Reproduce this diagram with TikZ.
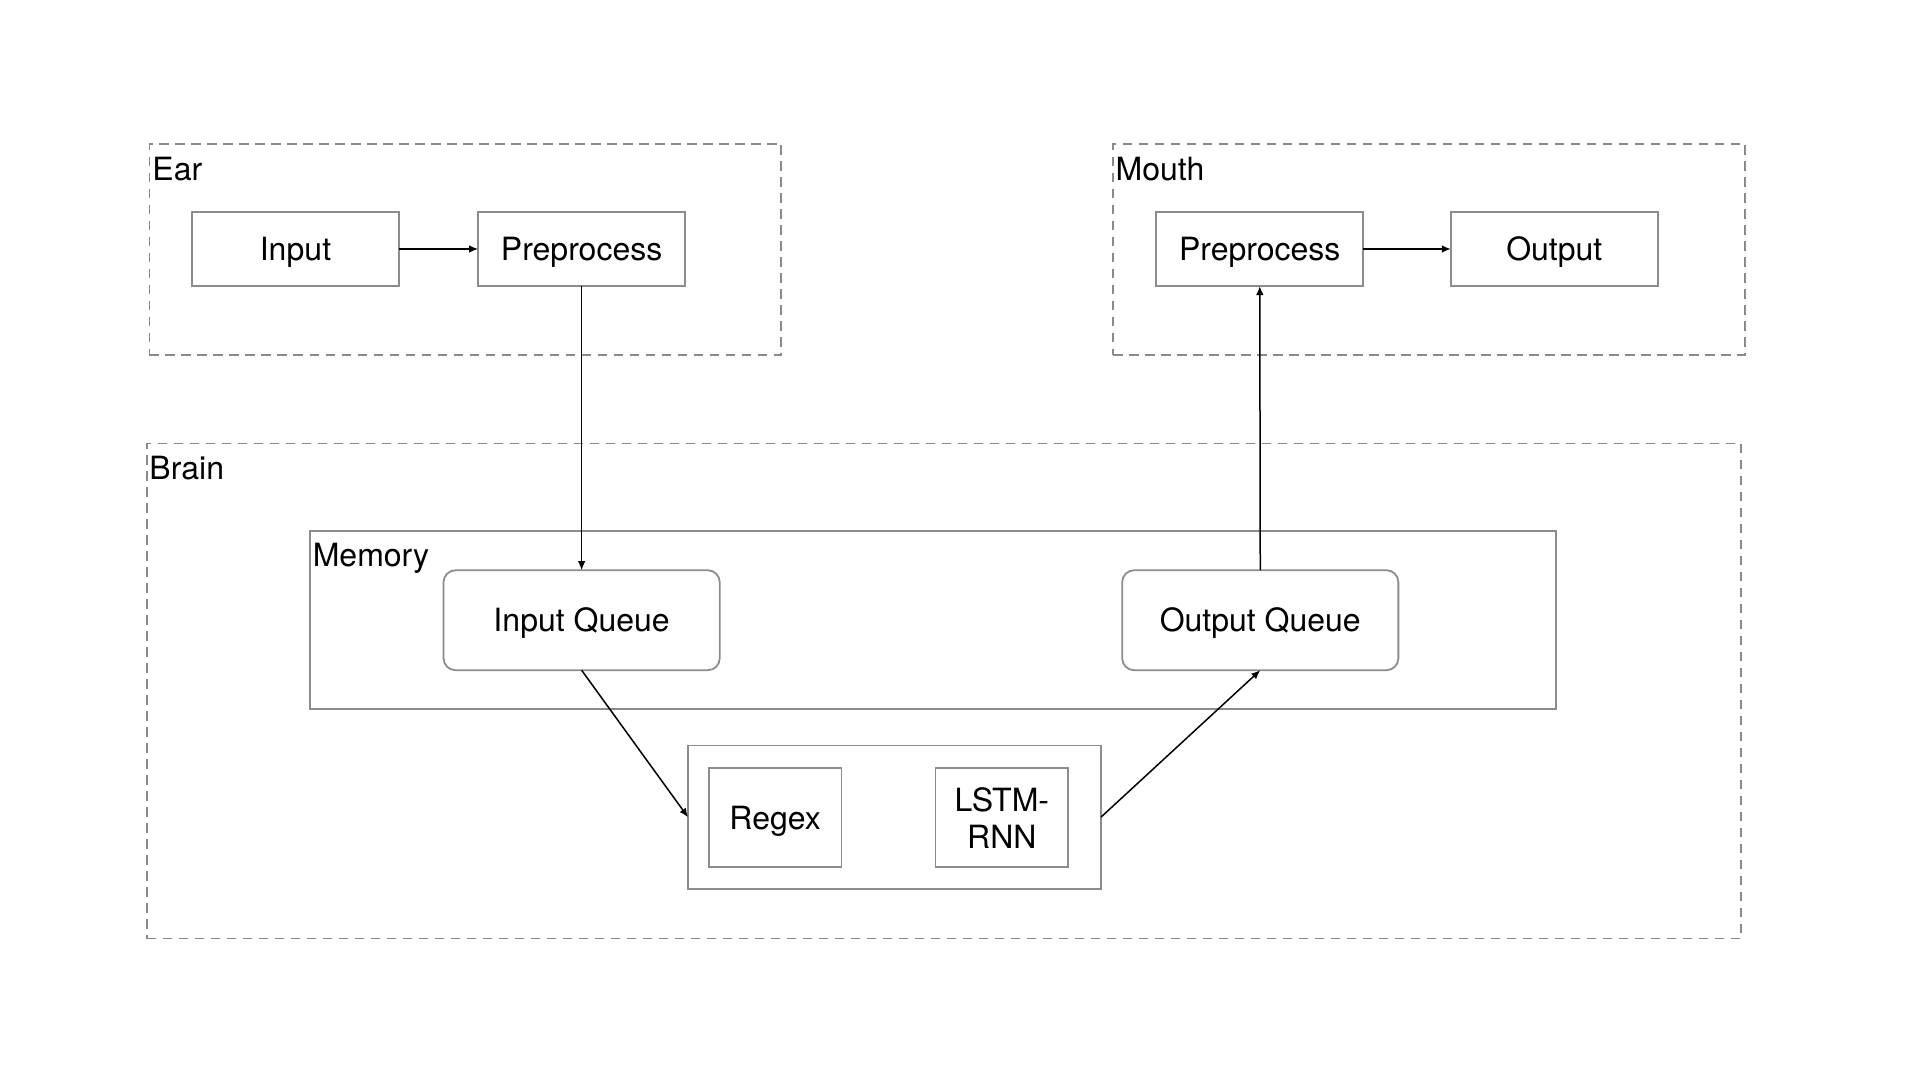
\documentclass[tikz,border=0pt]{standalone}
\usepackage{fontspec}
\setmainfont{TeX Gyre Heros}
\usetikzlibrary{arrows.meta}
\definecolor{boxgray}{RGB}{140,140,143}
\definecolor{dashgray}{RGB}{138,138,140}
\tikzset{
  every node/.style={font=\fontsize{16}{18.5}\selectfont, inner sep=0pt, outer sep=0pt},
  group/.style={draw=dashgray, line width=0.95pt, dash pattern=on 4.8pt off 3.2pt},
  plainbox/.style={draw=boxgray, line width=0.9pt},
  oneline/.style={text height=11.5pt, text depth=0pt},
  queuebox/.style={draw=boxgray, line width=0.9pt, rounded corners=6pt, oneline},
  grouplabel/.style={anchor=base west},
  conn/.style={line width=0.75pt, -{Latex[length=4.5pt,width=3.8pt]}}
}
\begin{document}
\begin{tikzpicture}[x=0.495pt,y=-0.495pt]
\useasboundingbox (0,0) rectangle (1939.4,1090.9);
% groups
\node[group, minimum width=315.8pt, minimum height=105.9pt] (ear) at (470,252) {};
\node[group, minimum width=315.8pt, minimum height=105.9pt] (mouth) at (1443.5,252) {};
\node[group, minimum width=797.4pt, minimum height=247.5pt] (brain) at (953.5,698) {};
\node[grouplabel] (earlbl) at (154,182) {Ear};
\node[grouplabel] (mouthlbl) at (1127,182) {Mouth};
\node[grouplabel] (brainlbl) at (151,484.5) {Brain};
% memory
\node[plainbox, minimum width=623.2pt, minimum height=89.1pt] (memory) at (942.5,626) {};
\node[grouplabel] (memlbl) at (316,572.5) {Memory};
% ear nodes
\node[plainbox, oneline, minimum width=103.5pt, minimum height=37.1pt] (input) at (298.5,251.5) {Input};
\node[plainbox, oneline, minimum width=103.5pt, minimum height=37.1pt] (epre) at (587.5,251.5) {Preprocess};
% mouth nodes
\node[plainbox, oneline, minimum width=103.5pt, minimum height=37.1pt] (mpre) at (1272.5,251.5) {Preprocess};
\node[plainbox, oneline, minimum width=103.5pt, minimum height=37.1pt] (output) at (1570,251.5) {Output};
% queues
\node[queuebox, minimum width=138.1pt, minimum height=50pt] (iq) at (587.5,626.5) {Input Queue};
\node[queuebox, minimum width=138.1pt, minimum height=50pt] (oq) at (1273,626.5) {Output Queue};
% model
\node[plainbox, minimum width=206.4pt, minimum height=71.8pt] (model) at (903.5,825.5) {};
\node[plainbox, oneline, minimum width=66.3pt, minimum height=49.5pt] (regex) at (783,826) {Regex};
\node[plainbox, minimum width=66.3pt, minimum height=49.5pt, align=center] (lstm) at (1012,826) {LSTM-\\RNN};
% connectors
\draw[conn] (input) -- (epre);
\draw[conn] (mpre) -- (output);
\draw[conn] (epre.south) -- (iq.north);
\draw[conn] (oq.north) -- (mpre.south);
\draw[conn] (iq.south) -- (model.west);
\draw[conn] (model.east) -- (oq.south);
\end{tikzpicture}
\end{document}
